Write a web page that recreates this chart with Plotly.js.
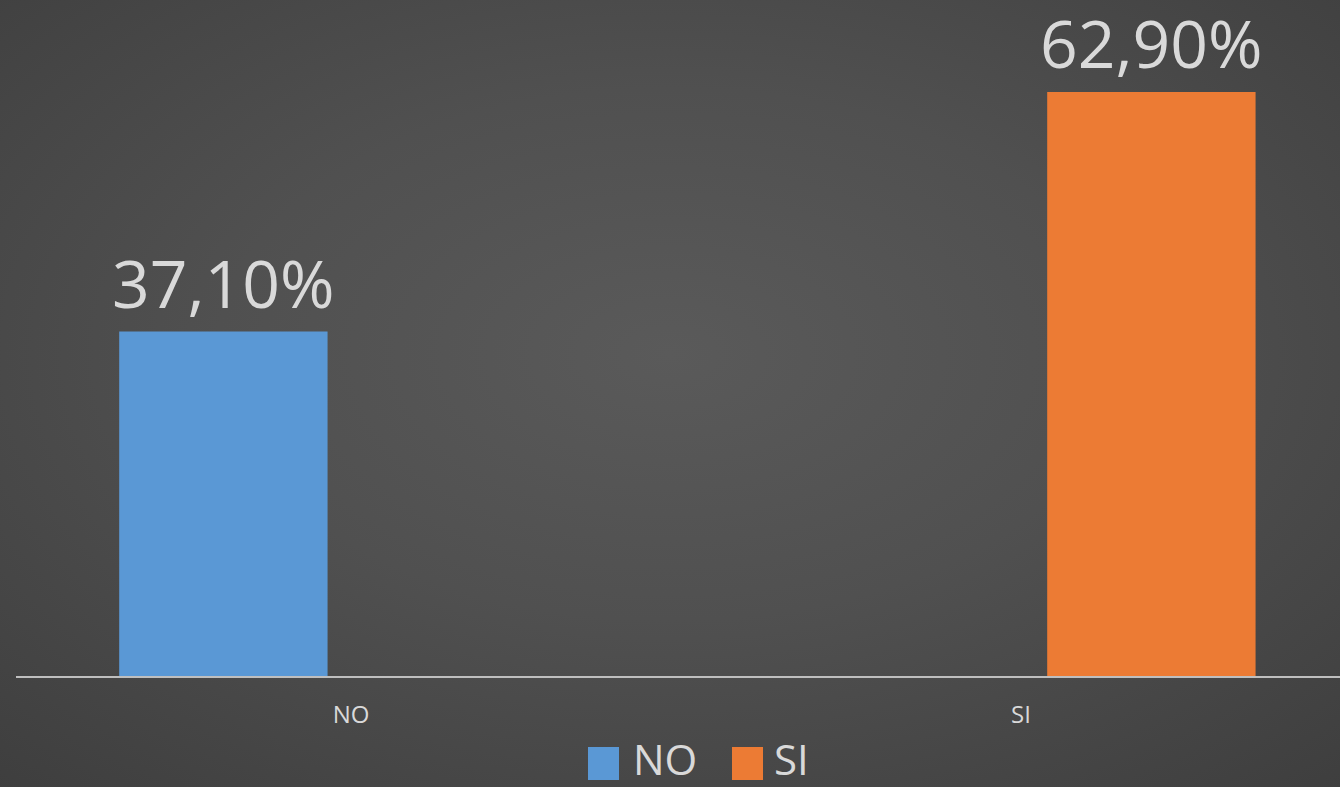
<!DOCTYPE html>
<html>
<head>
<meta charset="utf-8">
<script src="https://cdn.plot.ly/plotly-3.0.1.min.js"></script>
<style>
  html, body { margin:0; padding:0; width:1340px; height:787px; overflow:hidden;
    background: radial-gradient(ellipse 75% 75% at 50% 45%, #5a5a5a 0%, #505050 45%, #3e3e3e 100%); }
  #chart { width:1340px; height:787px; }
</style>
</head>
<body>
<div id="chart"></div>
<script>
const categories = ["NO", "SI"];
const seriesNames = ["NO", "SI"];
const valuesNO = [37.1];
const valuesSI = [62.9];
const colors = ["#5a98d5", "#ec7b34"];

const W = 1340, H = 787, L = 16, B = 111;
const plotW = W - L, plotH = H - B;
const px = p => (p - L) / plotW;
const py = p => (plotH - p) / plotH;

const barWidth = 0.311;
const offsets = [-0.346, 0.039];
const fmt = v => v.toFixed(2).replace(".", ",") + "%";

const labelFont = { family: "Open Sans, sans-serif", size: 66, color: "#d9d9d9" };

const traces = [
  { type: "bar", name: seriesNames[0], x: [categories[0]], y: valuesNO,
    marker: { color: colors[0] }, width: barWidth, offset: offsets[0],
    hoverinfo: "skip", showlegend: false },
  { type: "bar", name: seriesNames[1], x: [categories[1]], y: valuesSI,
    marker: { color: colors[1] }, width: barWidth, offset: offsets[1],
    hoverinfo: "skip", showlegend: false }
];

const legendFont = { family: "Open Sans, sans-serif", size: 42, color: "#d9d9d9" };
const layout = {
  width: W, height: H,
  margin: { l: L, r: 0, t: 0, b: B, pad: 0 },
  paper_bgcolor: "rgba(0,0,0,0)", plot_bgcolor: "rgba(0,0,0,0)",
  barmode: "overlay",
  showlegend: false,
  xaxis: { type: "category", categoryarray: categories, range: [-0.5, 1.476],
    showline: true, linecolor: "#bfbfbf", linewidth: 2, showgrid: false, zeroline: false,
    ticks: "", ticklabelstandoff: 16,
    tickfont: { family: "Open Sans, sans-serif", size: 24, color: "#d9d9d9" } },
  yaxis: { range: [0, 72.8], visible: false, showgrid: false, zeroline: false },
  shapes: [
    { type: "rect", xref: "paper", yref: "paper", x0: px(588), x1: px(619), y0: py(780), y1: py(747),
      fillcolor: colors[0], line: { width: 0 } },
    { type: "rect", xref: "paper", yref: "paper", x0: px(732), x1: px(763), y0: py(780), y1: py(747),
      fillcolor: colors[1], line: { width: 0 } }
  ],
  annotations: [
    { xref: "x", yref: "y", x: 0 + offsets[0] + barWidth / 2, y: valuesNO[0],
      xanchor: "center", yanchor: "bottom", yshift: 3, text: fmt(valuesNO[0]),
      showarrow: false, font: labelFont },
    { xref: "x", yref: "y", x: 1 + offsets[1] + barWidth / 2, y: valuesSI[0],
      xanchor: "center", yanchor: "bottom", yshift: 3, text: fmt(valuesSI[0]),
      showarrow: false, font: labelFont },
    { xref: "paper", yref: "paper", x: px(631), y: py(759), xanchor: "left", yanchor: "middle",
      text: seriesNames[0], showarrow: false, font: legendFont },
    { xref: "paper", yref: "paper", x: px(772), y: py(759), xanchor: "left", yanchor: "middle",
      text: seriesNames[1], showarrow: false, font: legendFont }
  ]
};

Plotly.newPlot("chart", traces, layout, { displayModeBar: false, staticPlot: true });
</script>
</body>
</html>
